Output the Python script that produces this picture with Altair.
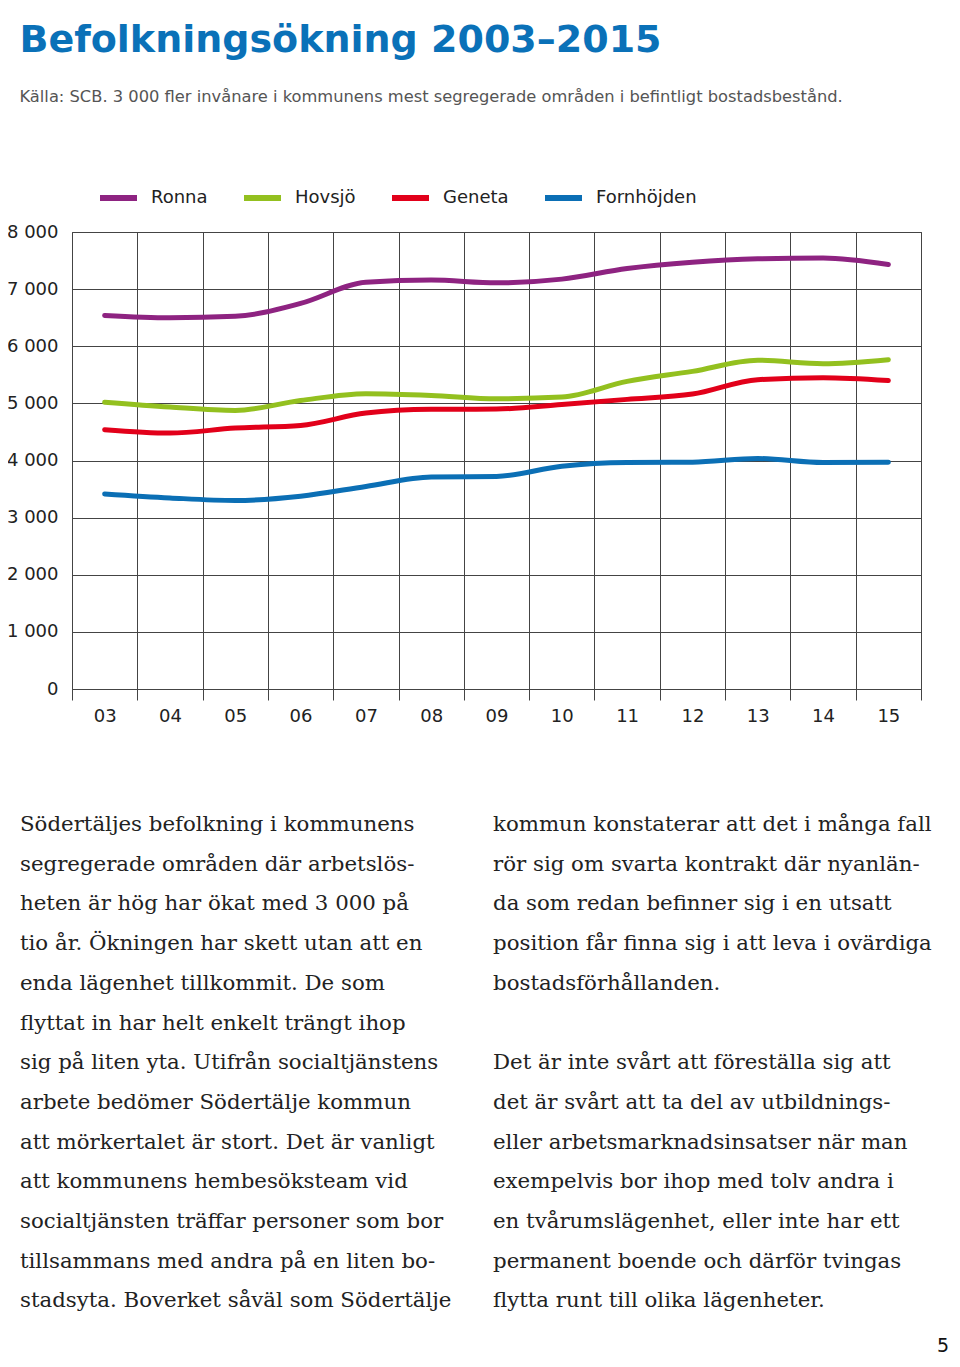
import altair as alt
import pandas as pd

years = ["03", "04", "05", "06", "07", "08", "09", "10", "11", "12", "13", "14", "15"]
ronna = [6540, 6500, 6525, 6750, 7120, 7160, 7110, 7175, 7360, 7470, 7530, 7545, 7430]
hovsjo = [5020, 4935, 4877, 5050, 5170, 5140, 5080, 5110, 5385, 5560, 5755, 5695, 5765]
geneta = [4540, 4480, 4567, 4614, 4830, 4895, 4900, 4982, 5070, 5163, 5415, 5450, 5400]
fornhojden = [3415, 3345, 3300, 3375, 3545, 3710, 3720, 3900, 3965, 3970, 4035, 3965, 3970]

series_names = ["Ronna", "Hovsjö", "Geneta", "Fornhöjden"]
series_colors = ["#8e2381", "#93c01f", "#e2001a", "#0b6fb5"]

left_lines = [
    "Södertäljes befolkning i kommunens",
    "segregerade områden där arbetslös-",
    "heten är hög har ökat med 3 000 på",
    "tio år. Ökningen har skett utan att en",
    "enda lägenhet tillkommit. De som",
    "flyttat in har helt enkelt trängt ihop",
    "sig på liten yta. Utifrån socialtjänstens",
    "arbete bedömer Södertälje kommun",
    "att mörkertalet är stort. Det är vanligt",
    "att kommunens hembesöksteam vid",
    "socialtjänsten träffar personer som bor",
    "tillsammans med andra på en liten bo-",
    "stadsyta. Boverket såväl som Södertälje",
]
right_lines = [
    "kommun konstaterar att det i många fall",
    "rör sig om svarta kontrakt där nyanlän-",
    "da som redan befinner sig i en utsatt",
    "position får finna sig i att leva i ovärdiga",
    "bostadsförhållanden.",
    "",
    "Det är inte svårt att föreställa sig att",
    "det är svårt att ta del av utbildnings-",
    "eller arbetsmarknadsinsatser när man",
    "exempelvis bor ihop med tolv andra i",
    "en tvårumslägenhet, eller inte har ett",
    "permanent boende och därför tvingas",
    "flytta runt till olika lägenheter.",
]

rows = []
for name, vals in zip(series_names, [ronna, hovsjo, geneta, fornhojden]):
    for y, v in zip(years, vals):
        rows.append({"year": y, "value": v, "area": name})
df = pd.DataFrame(rows)

trows = []
for i, t in enumerate(left_lines):
    trows.append({"col": 0, "row": i, "text": t})
for i, t in enumerate(right_lines):
    if t:
        trows.append({"col": 1, "row": i, "text": t})
tdf = pd.DataFrame(trows)

SANS = "DejaVu Sans"

lines = alt.Chart(df).mark_line(
    strokeWidth=5, strokeCap="round", strokeJoin="round", interpolate="monotone"
).encode(
    x=alt.X("year:N", sort=years, title=None,
            scale=alt.Scale(paddingInner=0, paddingOuter=0),
            axis=alt.Axis(tickBand="extent", grid=True, gridColor="#444", gridWidth=1,
                          tickColor="#444", tickSize=11, domain=False, labelAngle=0,
                          labelFont=SANS, labelFontSize=18, labelColor="#222",
                          labelPadding=7.5)),
    y=alt.Y("value:Q", title=None,
            scale=alt.Scale(domain=[0, 8000], nice=False),
            axis=alt.Axis(values=[0, 1000, 2000, 3000, 4000, 5000, 6000, 7000, 8000],
                          labelExpr="replace(format(datum.value, ','), ',', ' ')",
                          ticks=False, domain=False, grid=True, gridColor="#444", gridWidth=1,
                          labelFont=SANS, labelFontSize=18, labelColor="#222",
                          labelPadding=14)),
    color=alt.Color("area:N", title=None,
                    scale=alt.Scale(domain=series_names, range=series_colors),
                    legend=alt.Legend(orient="none", legendX=25, legendY=-55.7,
                                      direction="horizontal", symbolType="stroke",
                                      symbolSize=1369, symbolStrokeWidth=6,
                                      labelFont=SANS, labelFontSize=18, labelColor="#222",
                                      labelOffset=11, columnPadding=24)),
)

body = alt.Chart(tdf).mark_text(
    align="left", baseline="alphabetic", font="DejaVu Serif", fontSize=21.3, color="#222"
).encode(
    x=alt.X("col:Q", scale=alt.Scale(domain=[0, 1], range=[-52, 421]), axis=None),
    y=alt.Y("row:Q", scale=alt.Scale(domain=[0, 12], range=[599, 599 + 12 * 39.7]), axis=None),
    text="text:N",
)

pagenum = alt.Chart(pd.DataFrame({"p": ["5"]})).mark_text(
    align="right", baseline="alphabetic", font=SANS, fontSize=19, color="#111"
).encode(x=alt.value(877), y=alt.value(1120), text="p:N")

chart = alt.layer(lines, body, pagenum).resolve_scale(
    x="independent", y="independent"
).properties(
    width=849, height=457,
    autosize=alt.AutoSizeParams(type="none"),
    padding={"left": 64, "top": 224, "right": 31, "bottom": 669},
    title=alt.Title(
        text="Befolkningsökning 2003–2015",
        subtitle="Källa: SCB. 3 000 fler invånare i kommunens mest segregerade områden i befintligt bostadsbestånd.",
        anchor="start", font=SANS, fontSize=38, fontWeight="bold", color="#0a71b8",
        subtitleFont=SANS, subtitleFontSize=16.3, subtitleColor="#555",
        subtitlePadding=29, offset=57.3, dx=13, dy=-13.5,
    ),
).configure_view(stroke="#444", strokeWidth=1)

chart.save("out.html", embed_options={"renderer": "svg", "actions": False})
